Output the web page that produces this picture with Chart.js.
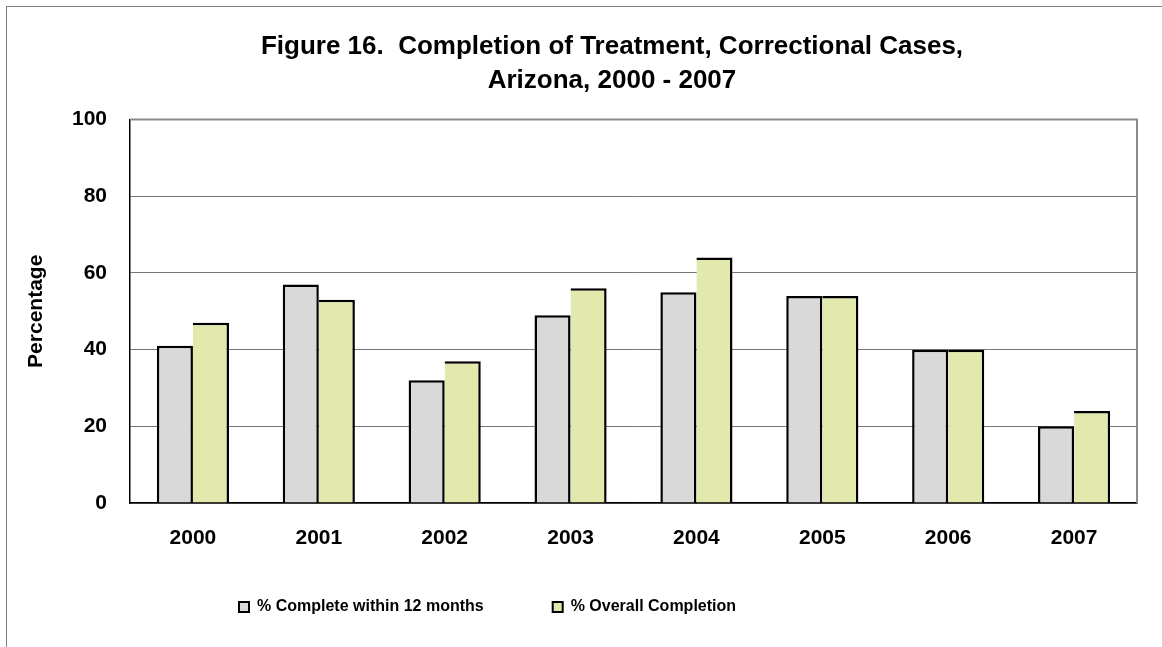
<!DOCTYPE html>
<html lang="en">

<head>
    <meta charset="UTF-8">
    <meta name="viewport" content="width=device-width, initial-scale=1.0">
    <title>Figure 16</title>
    <script src="https://cdn.jsdelivr.net/npm/chart.js"></script>
    <style>
        body {
            margin: 0;
            overflow: hidden;
            background: #fff;
        }

        .frame {
            position: absolute;
            left: 6px;
            top: 6px;
            width: 1400px;
            height: 800px;
            border: 1px solid #808080;
        }

        .chart-box {
            position: absolute;
            left: 0;
            top: 0;
            width: 1162px;
            height: 647px;
        }
    </style>
</head>

<body>
    <div class="frame"></div>
    <div class="chart-box">
        <canvas id="myChart"></canvas>
    </div>

    <script>
        const years = ['2000', '2001', '2002', '2003', '2004', '2005', '2006', '2007'];
        const within12 = [41, 57, 32, 49, 55, 54, 40, 20];
        const overall = [47, 53, 37, 56, 64, 54, 40, 24];
        const yTicks = [0, 20, 40, 60, 80, 100];

        Chart.defaults.font.family = '"Liberation Sans", Arial, sans-serif';
        Chart.defaults.font.weight = 'bold';
        Chart.defaults.color = '#000';

        // excel had the title / legend placed by hand, move them after layout
        const placeBoxes = {
            id: 'placeBoxes',
            afterLayout(chart) {
                const t = chart.titleBlock;
                t.left = 612 - 560;
                t.right = 612 + 560;
                const lg = chart.legend;
                const pad = lg.options.labels.padding;
                lg.left = 170;
                lg.right = 1162;
                lg.top = 599 - pad;
                lg.bottom = 647;
            }
        };

        // grey border on top and right of the plot area
        const plotFrame = {
            id: 'plotFrame',
            beforeDatasetsDraw(chart) {
                const { ctx, chartArea: a } = chart;
                ctx.save();
                ctx.strokeStyle = '#8c8c8c';
                ctx.lineWidth = 2;
                ctx.beginPath();
                ctx.moveTo(a.left, a.top);
                ctx.lineTo(a.right, a.top);
                ctx.lineTo(a.right, a.bottom);
                ctx.stroke();
                ctx.restore();
            }
        };

        const ctx = document.getElementById('myChart');

        new Chart(ctx, {
            type: 'bar',
            data: {
                labels: years,
                datasets: [{
                    label: '% Complete within 12 months',
                    data: within12,
                    backgroundColor: '#d9d9d9',
                    borderColor: '#000',
                    borderWidth: 2.5
                }, {
                    label: '% Overall Completion',
                    data: overall,
                    backgroundColor: '#e3e8ad',
                    borderColor: '#000',
                    // left edge is already drawn by the grey bar
                    borderWidth: { top: 2.5, right: 2.5, bottom: 0, left: 0 }
                }]
            },
            options: {
                responsive: true,
                maintainAspectRatio: false,
                animation: false,
                datasets: {
                    bar: {
                        categoryPercentage: 0.573,
                        barPercentage: 1.0
                    }
                },
                layout: {
                    padding: { left: 0, right: 25, top: 0, bottom: 56 }
                },
                plugins: {
                    title: {
                        display: true,
                        text: ['Figure 16.  Completion of Treatment, Correctional Cases,', 'Arizona, 2000 - 2007'],
                        font: { size: 26, weight: 'bold', lineHeight: 1.3 },
                        color: '#000',
                        padding: { top: 30, bottom: 22 }
                    },
                    legend: {
                        position: 'bottom',
                        align: 'start',
                        maxHeight: 40,
                        labels: {
                            boxWidth: 10,
                            boxHeight: 10,
                            padding: 69,
                            font: { size: 16, weight: 'bold' },
                            color: '#000',
                            generateLabels(chart) {
                                const items = Chart.defaults.plugins.legend.labels.generateLabels(chart);
                                items.forEach(item => item.lineWidth = 2);
                                return items;
                            }
                        }
                    },
                    tooltip: { enabled: false }
                },
                scales: {
                    x: {
                        grid: { display: false, drawTicks: false },
                        border: { color: '#000', width: 1.5 },
                        ticks: {
                            padding: 23,
                            font: { size: 21, weight: 'bold' }
                        },
                        afterFit(scale) {
                            scale.height = 48;
                        }
                    },
                    y: {
                        min: 0,
                        max: 100,
                        afterBuildTicks(scale) {
                            scale.ticks = yTicks.map(v => ({ value: v }));
                        },
                        grid: { color: '#777', lineWidth: 1, drawTicks: false },
                        border: { color: '#000', width: 1.5 },
                        ticks: {
                            padding: 23,
                            font: { size: 21, weight: 'bold' }
                        },
                        title: {
                            display: true,
                            text: 'Percentage',
                            font: { size: 21, weight: 'bold' },
                            padding: { top: 24, bottom: 23 }
                        },
                        afterFit(scale) {
                            scale.width = 130;
                        }
                    }
                }
            },
            plugins: [placeBoxes, plotFrame]
        });
    </script>
</body>

</html>
